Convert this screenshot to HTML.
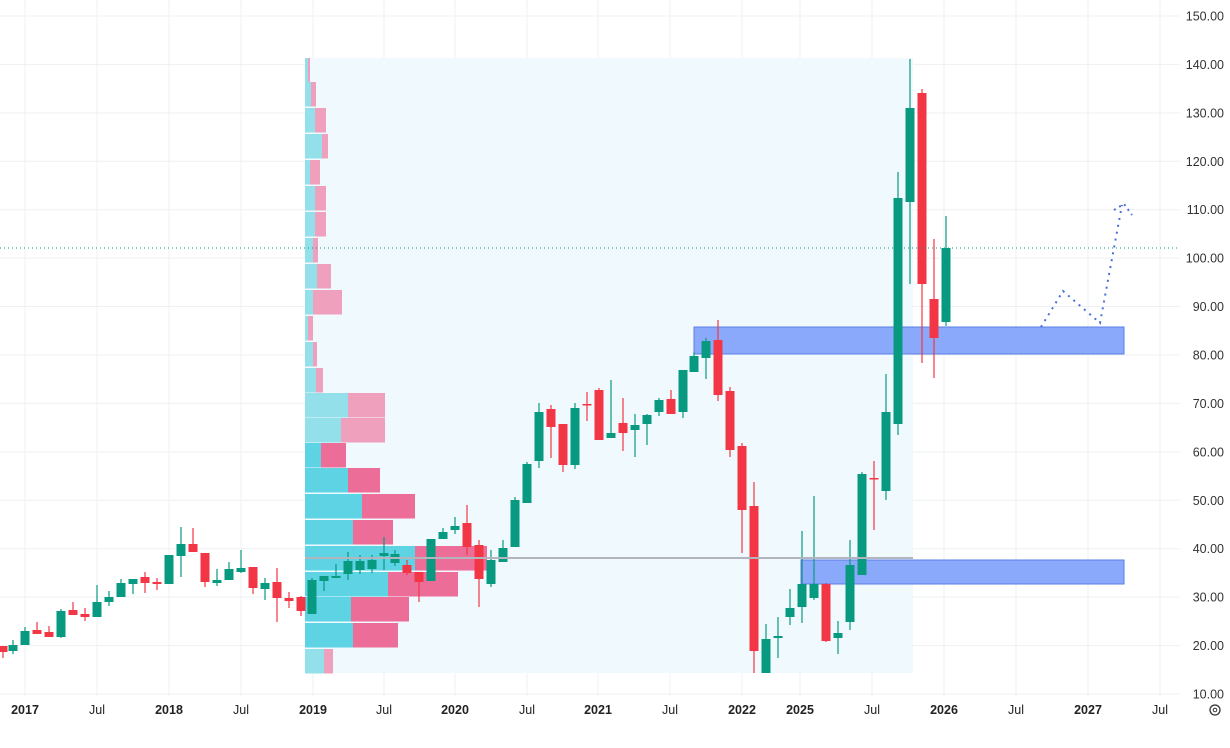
<!DOCTYPE html>
<html><head><meta charset="utf-8"><style>
html,body{margin:0;padding:0;background:#fff;}
svg{display:block;font-family:"Liberation Sans",sans-serif;}
</style></head><body>
<svg id="s" width="1230" height="748" xmlns="http://www.w3.org/2000/svg"></svg>
<script>
const s=document.getElementById('s');let h='';
const Y=p=>694-(p-10)*4.843;
// grid
const vx=[25,97,169,241,313,384,455,527,598,670,742,800,872,944,1016,1088,1160];
for(let p=10;p<=150;p+=10){const y=Y(p);h+=`<line x1="0" x2="1180" y1="${y}" y2="${y}" stroke="#eef0f3"/>`;h+=`<text x="1224" y="${y+4.5}" font-size="12.5" fill="#333" text-anchor="end">${p.toFixed(2)}</text>`;}
vx.forEach(x=>h+=`<line x1="${x}" x2="${x}" y1="0" y2="696" stroke="#eef0f3"/>`);
const lb=['2017','Jul','2018','Jul','2019','Jul','2020','Jul','2021','Jul','2022','2025','Jul','2026','Jul','2027','Jul'];
lb.forEach((t,i)=>h+=`<text x="${vx[i]}" y="714" font-size="12.5" fill="#222" text-anchor="middle" ${t!='Jul'?'font-weight="bold"':''}>${t}</text>`);
h+=`<circle cx="1215" cy="710" r="5" fill="none" stroke="#333" stroke-width="1.3"/><circle cx="1215" cy="710" r="1.8" fill="none" stroke="#333"/>`;
// VP background
h+=`<rect x="305" y="58" width="608" height="615" fill="#f0f9fd"/>`;
const rows=[[58,308,310,1],[82,311,316,1],[108,315,326,1],[134,322,328,1],[160,310,320,1],[186,315,326,1],[212,315,326,1],[238,313,318,1],[264,317,331,1],[290,313,342,1],[316,308,313,1],[342,313,317,1],[368,316,323,1],[393,348,385,1],[418,341,385,1],[443,321,346,0],[468,348,380,0],[494,362,415,0],[520,353,393,0],[546,415,487,0],[572,388,458,0],[597,351,409,0],[623,353,398,0],[649,324,333,1]];
rows.forEach(r=>{const hh=24.5;h+=`<rect x="305" y="${r[0]}" width="${r[1]-305}" height="${hh}" fill="${r[3]?'#93e0ea':'#5dd3e3'}"/><rect x="${r[1]}" y="${r[0]}" width="${r[2]-r[1]}" height="${hh}" fill="${r[3]?'#efa0bd':'#ec6d98'}"/>`;});
// zones
h+=`<rect x="694" y="327" width="430" height="27" fill="#8aa9fb" stroke="#5b7fe6"/>`;
h+=`<rect x="801" y="560" width="323" height="24" fill="#8aa9fb" stroke="#5b7fe6"/>`;
// candles [x,bodyTop,bodyBot,wickTop,wickBot,green]
const c=[[3,646,652,646,658,0],[13,645,651,640,654,1],[25,631,645,627,645,1],[37,630,634,622,634,0],[49,632,637,626,637,0],[61,611,637,609,638,1],[73,610,615,602,615,0],[85,614,617,608,621,0],[97,602,617,585,617,1],[109,597,602,591,606,1],[121,583,597,579,597,1],[133,579,584,579,594,1],[145,577,583,572,593,0],[157,582,584,578,590,0],[169,555,584,555,584,1],[181,544,556,527,577,1],[193,544,552,528,552,0],[205,553,582,553,587,0],[217,580,583,569,586,1],[229,569,580,562,580,1],[241,568,572,550,573,1],[253,567,588,567,594,0],[265,583,589,578,600,1],[277,582,598,568,622,0],[289,598,601,592,608,0],[301,597,611,596,616,0],[312,580,614,578,614,1],[324,576,581,576,591,1],[336,576,578,564,578,1],[348,561,574,552,580,1],[360,561,570,555,574,1],[372,560,569,555,573,1],[384,553,556,537,570,1],[395,554,563,550,566,1],[407,565,573,560,575,0],[419,572,582,572,602,0],[431,539,581,539,581,1],[443,532,539,528,539,1],[455,526,530,517,534,1],[467,523,547,505,555,0],[479,545,579,540,607,0],[491,560,584,550,587,1],[503,548,562,540,562,1],[515,500,547,497,547,1],
[527,464,503,462,503,1],[539,412,461,403,468,1],[551,409,427,405,458,0],[563,424,465,424,472,0],[575,408,465,403,469,1],[587,404,405,392,421,0],[599,390,440,388,440,0],[611,433,438,380,438,1],[623,423,433,398,451,0],[635,425,430,414,457,1],[647,415,424,414,445,1],[659,400,412,398,416,1],[671,399,414,390,414,0],[683,370,412,370,418,1],[694,356,372,352,372,1],[706,341,358,338,379,1],[718,340,395,320,401,0],[730,391,450,387,457,0],[742,446,510,443,553,0],[754,506,651,482,673,0],[766,639,673,624,673,1],[778,636,638,617,658,1],[790,608,617,589,625,1],[802,584,607,531,623,1],[814,584,598,496,600,1],[826,584,641,583,642,0],[838,633,638,621,654,1],[850,565,622,540,630,1],[862,474,575,472,575,1],[874,478,479,461,530,0],[886,412,491,374,500,1],[898,198,424,172,435,1],[910,108,202,59,284,1],[922,93,284,89,363,0],[934,299,338,239,378,0],[946,248,322,216,326,1]];
c.forEach(k=>{const col=k[5]?'#089981':'#f23645';h+=`<line x1="${k[0]}" x2="${k[0]}" y1="${k[3]}" y2="${k[4]}" stroke="${col}" stroke-width="1.2"/><rect x="${k[0]-4.5}" y="${k[1]}" width="9" height="${Math.max(1.5,k[2]-k[1])}" fill="${col}"/>`;});
// POC
h+=`<line x1="305" x2="913" y1="558" y2="558" stroke="#b2b5be" stroke-width="2"/>`;
// dotted price line
h+=`<line x1="0" x2="1180" y1="248" y2="248" stroke="#089981" stroke-width="1" stroke-dasharray="1 3"/>`;
// dotted path
h+=`<polyline points="1041,327 1063,291 1100,323 1122,205" fill="none" stroke="#4a6fd8" stroke-width="2" stroke-dasharray="2 5"/><polyline points="1114,210 1124,204 1132,215" fill="none" stroke="#4a6fd8" stroke-width="2" stroke-dasharray="2 4"/>`;
s.innerHTML=h;
</script>
</body></html>
